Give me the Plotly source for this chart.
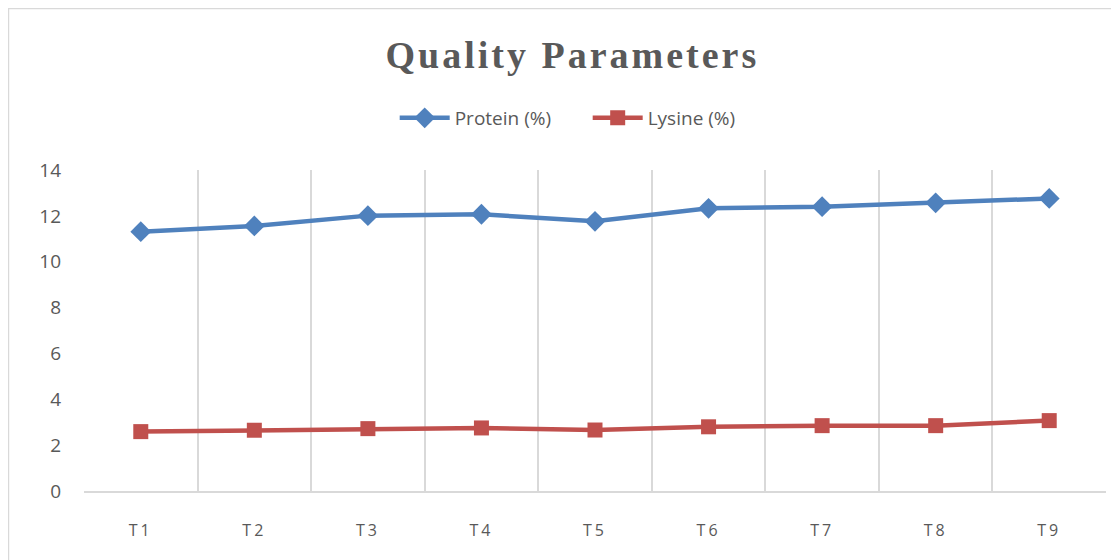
import plotly.graph_objects as go

categories = ["T1", "T2", "T3", "T4", "T5", "T6", "T7", "T8", "T9"]
protein = [11.31, 11.56, 12.01, 12.07, 11.76, 12.33, 12.40, 12.57, 12.76]
lysine = [2.59, 2.65, 2.72, 2.75, 2.66, 2.80, 2.85, 2.85, 3.07]
y_ticks = [0, 2, 4, 6, 8, 10, 12, 14]

tick_text = ['<span style="letter-spacing:3px">%s</span>' % c for c in categories]

fig = go.Figure()
fig.add_trace(go.Scatter(
    x=categories, y=protein, name="Protein (%)", mode="lines+markers",
    line=dict(color="#4F81BD", width=4.5),
    marker=dict(symbol="diamond", size=16, color="#4F81BD"),
))
fig.add_trace(go.Scatter(
    x=categories, y=lysine, name="Lysine (%)", mode="lines+markers",
    line=dict(color="#C0504D", width=4.5),
    marker=dict(symbol="square", size=15, color="#C0504D"),
))

fig.update_layout(
    width=1111, height=552,
    margin=dict(l=76, r=13, t=162, b=69),
    paper_bgcolor="white", plot_bgcolor="white",
    title=dict(text='<b><span style="letter-spacing:3px">Quality Parameters</span></b>',
               x=0.508, xanchor="center",
               y=1 - 47 / 552, yanchor="middle",
               font=dict(family="Liberation Serif", size=38, color="#595959")),
    legend=dict(orientation="h", x=0.304, xanchor="left", y=1.162, yanchor="middle",
                font=dict(family="Open Sans", size=19, color="#595959"),
                itemwidth=50, entrywidth=128, entrywidthmode="pixels",
                bgcolor="rgba(0,0,0,0)"),
    showlegend=True,
    xaxis=dict(type="category", tickson="boundaries", showgrid=True,
               gridcolor="#d9d9d9", gridwidth=1.5, showline=True,
               linecolor="#d9d9d9", linewidth=1.5, ticks="", ticklabelstandoff=24,
               tickvals=categories, ticktext=tick_text,
               tickfont=dict(family="Open Sans", size=16, color="#595959"),
               range=[-0.5, 8.5], zeroline=False),
    yaxis=dict(range=[0, 14], tickvals=y_ticks, showgrid=False, zeroline=False,
               showline=False, ticks="", ticklabelstandoff=22,
               tickfont=dict(family="Open Sans", size=19, color="#595959")),
    shapes=[dict(type="rect", xref="paper", yref="paper",
                 x0=-0.0739, x1=1.0059, y0=-0.25, y1=1.503,
                 line=dict(color="#d9d9d9", width=1.5), layer="below")],
)

fig.write_html("out.html")
